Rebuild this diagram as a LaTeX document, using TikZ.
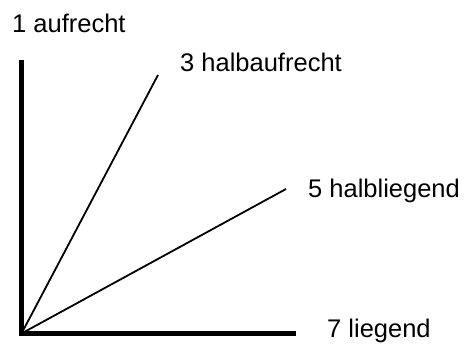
\documentclass[tikz,border=0pt]{standalone}
\usepackage{fontspec}
\setmainfont{Liberation Sans}
\usetikzlibrary{positioning}
\tikzset{
  axis/.style={line width=5pt,draw=black},
  ray/.style={line width=1.8pt,draw=black},
  lbl/.style={anchor=base west,inner sep=0pt,font=\fontsize{25.5}{28}\selectfont}
}
\begin{document}
\begin{tikzpicture}[x=1pt,y=-1pt]
\useasboundingbox (0,0) rectangle (469,345);
\coordinate (o) at (21.5,333.5);
\coordinate (top) at (21.5,60);
\coordinate (right) at (296,333.5);
\coordinate (r3) at (158,75);
\coordinate (r5) at (286,189);
\draw[axis] (top) -- (o) -- (right);
\draw[ray] (o) -- (r3); \draw[ray] (o) -- (r5);
\node[lbl] (l1) at (12,33) {1 aufrecht};
\node[lbl] (l3) at (180,72) {3 halbaufrecht};
\node[lbl] (l5) at (308,197) {5 halbliegend};
\node[lbl] (l7) at (327,337) {7 liegend};
\end{tikzpicture}
\end{document}
